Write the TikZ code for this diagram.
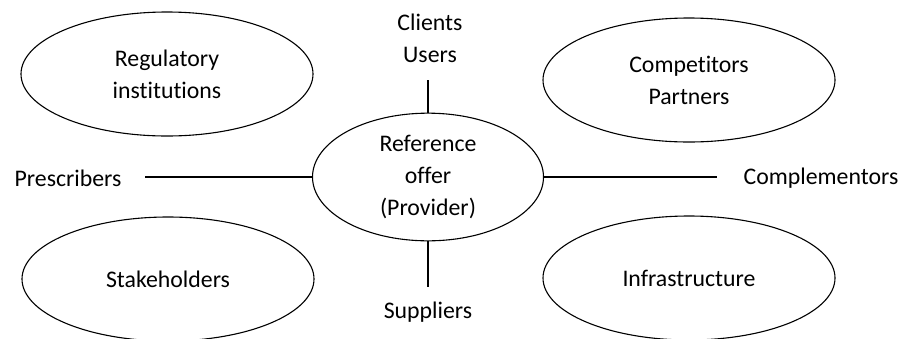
\documentclass[tikz,border=0pt]{standalone}
\usepackage{fontspec}
\setmainfont{Carlito}[Ligatures={NoCommon,NoContextual}]
\usetikzlibrary{
    positioning,
    shapes.geometric
}
\tikzset{
    % Ellipses
    actor/.style={ellipse,draw,line width=1.1pt,minimum width=292pt,minimum height=124pt,align=center},
    offer/.style={ellipse,draw,line width=1.1pt,minimum width=231pt,minimum height=124pt,align=center},
    %
    % Free labels and links
    side label/.style={inner sep=0pt,align=center},
    link/.style={line width=1.1pt}
}
\tikzstyle{every node}=[font=\fontsize{23.8}{32}\selectfont]

\begin{document}
\begin{tikzpicture}[x=1pt,y=-1pt]
        \useasboundingbox (0,0) rectangle (902,338);
        \node[offer] (ref) at (428,177) {Reference\\offer\\(Provider)};
        \node[actor] (regul) at (167,74) {Regulatory\\institutions};
        \node[actor] (compet) at (689,80) {Competitors\\Partners};
        \node[actor] (stake) at (168,279) {Stakeholders};
        \node[actor] (infra) at (689,278) {Infrastructure};
        %
        \node[side label] (clients) at (430,38) {Clients\\Users};
        \node[side label] (suppl) at (428,312) {Suppliers};
        \node[side label] (presc) at (68,178) {Prescribers};
        \node[side label] (compl) at (821,178) {Complementors};
        %
        \draw[link,shorten >=17pt] (ref.north) -- (ref.north |- clients.south);
        \draw[link,shorten >=15pt] (ref.south) -- (ref.south |- suppl.north);
        \draw[link,shorten >=23pt] (ref.west) -- (ref.west -| presc.east);
        \draw[link,shorten >=26pt] (ref.east) -- (ref.east -| compl.west);
\end{tikzpicture}
\end{document}
